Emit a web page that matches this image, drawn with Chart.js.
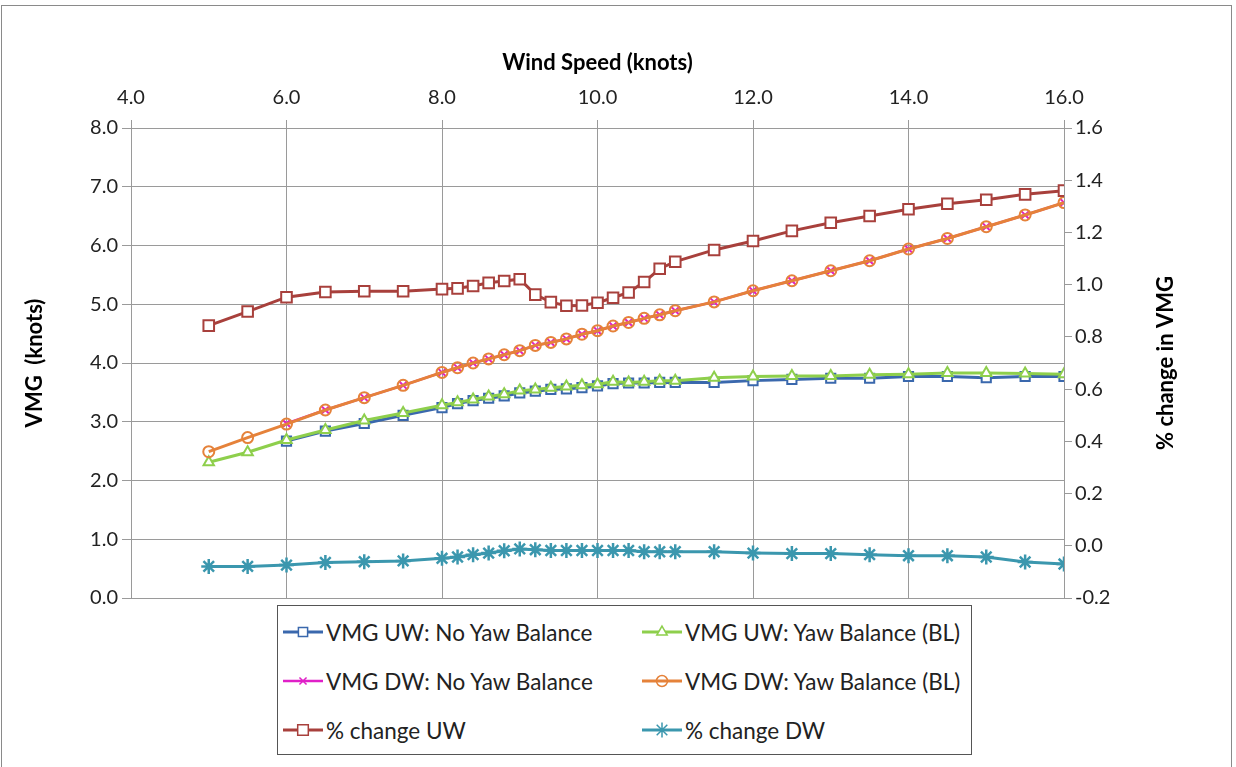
<!DOCTYPE html>
<html>
<head>
<meta charset="utf-8">
<script src="https://cdn.jsdelivr.net/npm/chart.js@4/dist/chart.umd.min.js"></script>
<style>
    body { margin: 0; background: #fff; font-family: Lato, sans-serif; }
    #wrap { position: relative; width: 1236px; height: 767px; overflow: hidden; }
    #frame { position: absolute; left: 1px; top: 5px; width: 1229px; height: 800px; border: 1.5px solid #8a8a8a; pointer-events: none; }
    #legend { position: absolute; left: 277px; top: 605px; width: 693px; height: 148px; border: 1.5px solid #555; background: #fff; }
    .item { position: absolute; display: flex; align-items: center; font-size: 22.5px; color: #222; white-space: nowrap; }
    .item canvas { margin-right: 3px; }
</style>
</head>
<body>
<div id="wrap">
    <canvas id="vmgChart"></canvas>
    <div id="frame"></div>
    <div id="legend"></div>
</div>
<script>
// Wind speed (knots) for every data point
const windSpeed = [5, 5.5, 6, 6.5, 7, 7.5, 8, 8.2, 8.4, 8.6, 8.8, 9, 9.2, 9.4, 9.6, 9.8, 10,
    10.2, 10.4, 10.6, 10.8, 11, 11.5, 12, 12.5, 13, 13.5, 14, 14.5, 15, 15.5, 16];

// VMG (knots), left axis
const vmgUwNoYaw = [null, null, 2.67, 2.84, 2.97, 3.11, 3.24, 3.31, 3.36, 3.40, 3.44, 3.49, 3.52, 3.55, 3.56, 3.58, 3.61,
    3.65, 3.66, 3.66, 3.67, 3.67, 3.67, 3.70, 3.72, 3.74, 3.74, 3.77, 3.77, 3.75, 3.77, 3.77];
const vmgUwYaw = [2.31, 2.48, 2.69, 2.86, 3.02, 3.15, 3.28, 3.33, 3.38, 3.43, 3.47, 3.53, 3.55, 3.58, 3.60, 3.62, 3.64,
    3.68, 3.67, 3.68, 3.70, 3.70, 3.75, 3.77, 3.78, 3.78, 3.80, 3.81, 3.83, 3.83, 3.82, 3.81];
const vmgDwNoYaw = [null, null, 2.97, 3.20, 3.41, 3.62, 3.84, 3.92, 4.00, 4.07, 4.14, 4.21, 4.30, 4.35, 4.41, 4.49, 4.55,
    4.63, 4.69, 4.76, 4.82, 4.89, 5.04, 5.23, 5.40, 5.57, 5.74, 5.94, 6.12, 6.32, 6.52, 6.73];
const vmgDwYaw = [2.49, 2.73, 2.96, 3.20, 3.41, 3.62, 3.84, 3.92, 4.00, 4.07, 4.14, 4.21, 4.30, 4.35, 4.41, 4.49, 4.55,
    4.63, 4.69, 4.76, 4.82, 4.89, 5.04, 5.23, 5.40, 5.57, 5.74, 5.94, 6.12, 6.32, 6.52, 6.73];

// % change in VMG, right axis
const pctChangeUw = [0.843, 0.897, 0.952, 0.972, 0.975, 0.975, 0.983, 0.986, 0.995, 1.007, 1.014, 1.021, 0.962, 0.933, 0.919, 0.920, 0.931,
    0.950, 0.970, 1.010, 1.061, 1.088, 1.133, 1.167, 1.206, 1.237, 1.263, 1.289, 1.310, 1.325, 1.346, 1.360];
const pctChangeDw = [-0.079, -0.079, -0.074, -0.064, -0.061, -0.058, -0.048, -0.043, -0.034, -0.028, -0.019, -0.012, -0.015, -0.018, -0.018, -0.018, -0.018,
    -0.018, -0.018, -0.023, -0.023, -0.023, -0.023, -0.028, -0.030, -0.030, -0.034, -0.038, -0.038, -0.043, -0.062, -0.070];

const seriesNames = ['VMG UW: No Yaw Balance', 'VMG UW: Yaw Balance (BL)', 'VMG DW: No Yaw Balance',
    'VMG DW: Yaw Balance (BL)', '% change UW', '% change DW'];

function toPoints(values) {
    return windSpeed.map((x, i) => ({ x: x, y: values[i] }));
}

const axisFont = { family: 'Lato', size: 20 };
const titleFont = { family: 'Lato', size: 22, weight: 'bold' };
const gridColor = '#9a9a9a';

const datasets = [
    {
        label: seriesNames[0], data: toPoints(vmgUwNoYaw), yAxisID: 'y',
        borderColor: '#3a68ad', pointBorderColor: '#3a68ad', pointBackgroundColor: '#fff',
        pointStyle: 'rect', pointRadius: 6.5, borderWidth: 3, pointBorderWidth: 2, order: 5
    },
    {
        label: seriesNames[1], data: toPoints(vmgUwYaw), yAxisID: 'y',
        borderColor: '#8ecf4c', pointBorderColor: '#8ecf4c', pointBackgroundColor: '#fff',
        pointStyle: 'triangle', pointRadius: 6, borderWidth: 3, pointBorderWidth: 2, order: 4
    },
    {
        label: seriesNames[2], data: toPoints(vmgDwNoYaw), yAxisID: 'y',
        borderColor: '#e020c8', pointBorderColor: '#e020c8', pointBackgroundColor: '#fff',
        pointStyle: 'crossRot', pointRadius: 5, borderWidth: 2.5, pointBorderWidth: 2, order: 6
    },
    {
        label: seriesNames[3], data: toPoints(vmgDwYaw), yAxisID: 'y',
        borderColor: '#e5823a', pointBorderColor: '#e5823a', pointBackgroundColor: 'rgba(0,0,0,0)',
        pointStyle: 'circle', pointRadius: 5.5, borderWidth: 3, pointBorderWidth: 2, order: 3
    },
    {
        label: seriesNames[4], data: toPoints(pctChangeUw), yAxisID: 'y2',
        borderColor: '#a8403c', pointBorderColor: '#a8403c', pointBackgroundColor: '#fff',
        pointStyle: 'rect', pointRadius: 7.5, borderWidth: 3, pointBorderWidth: 2, order: 2
    },
    {
        label: seriesNames[5], data: toPoints(pctChangeDw), yAxisID: 'y2',
        borderColor: '#3b97ae', pointBorderColor: '#3b97ae', pointBackgroundColor: '#fff',
        pointStyle: 'star', pointRadius: 7.5, borderWidth: 3, pointBorderWidth: 2.5, order: 1
    }
];

// right axis title reads bottom-to-top like the left one
const rightTitle = {
    id: 'rightTitle',
    afterDraw(chart) {
        const s = chart.scales.y2;
        const ctx = chart.ctx;
        ctx.save();
        ctx.translate(1166, (s.top + s.bottom) / 2);
        ctx.rotate(-Math.PI / 2);
        ctx.font = 'bold 22px Lato';
        ctx.fillStyle = '#000';
        ctx.textAlign = 'center';
        ctx.textBaseline = 'middle';
        ctx.fillText('% change in VMG', 0, 0);
        ctx.restore();
    }
};

const chart = new Chart(document.getElementById('vmgChart'), {
    type: 'line',
    data: { datasets: datasets },
    options: {
        responsive: true,
        maintainAspectRatio: false,
        animation: false,
        layout: { padding: { top: 0, left: 0, right: 0, bottom: 169 } },
        plugins: { legend: { display: false }, tooltip: { enabled: false } },
        scales: {
            x: {
                type: 'linear', position: 'top', min: 4, max: 16,
                afterFit: (scale) => { scale.height = 128; },
                ticks: { stepSize: 2, font: axisFont, color: '#222', padding: 10, maxRotation: 0,
                    callback: (v) => v.toFixed(1) },
                grid: { color: gridColor, tickLength: 8, tickColor: gridColor },
                border: { color: gridColor },
                title: { display: true, text: 'Wind Speed (knots)', font: titleFont, color: '#000',
                    padding: { top: 50, bottom: 0 } }
            },
            y: {
                position: 'left', min: 0, max: 8,
                afterFit: (scale) => { scale.width = 131; },
                ticks: { stepSize: 1, font: axisFont, color: '#222', padding: 4,
                    callback: (v) => v.toFixed(1) },
                grid: { color: gridColor, tickLength: 9, tickColor: gridColor },
                border: { color: gridColor },
                title: { display: true, text: 'VMG  (knots)', font: titleFont, color: '#000',
                    padding: { top: 22, bottom: 0 } }
            },
            y2: {
                position: 'right', min: -0.2, max: 1.6,
                afterFit: (scale) => { scale.width = 172; },
                ticks: { stepSize: 0.2, font: axisFont, color: '#222', padding: 3,
                    callback: (v) => v.toFixed(1) },
                grid: { drawOnChartArea: false, tickLength: 8, color: gridColor, tickColor: gridColor },
                border: { color: gridColor }
            }
        }
    },
    plugins: [rightTitle]
});

// legend box: two columns, three rows
function buildLegend() {
    const legend = document.getElementById('legend');
    const cols = [5, 364];
    const rows = [26, 75, 124];
    datasets.forEach((ds, i) => {
        const item = document.createElement('div');
        item.className = 'item';
        item.style.left = cols[i % 2] + 'px';
        item.style.top = (rows[Math.floor(i / 2)] - 15) + 'px';
        const c = document.createElement('canvas');
        c.width = 40;
        c.height = 30;
        const ctx = c.getContext('2d');
        ctx.strokeStyle = ds.borderColor;
        ctx.lineWidth = ds.borderWidth;
        ctx.beginPath();
        ctx.moveTo(0, 15);
        ctx.lineTo(40, 15);
        ctx.stroke();
        ctx.fillStyle = ds.pointBackgroundColor;
        ctx.lineWidth = 1.5;
        Chart.helpers.drawPoint(ctx, {
            pointStyle: ds.pointStyle, radius: ds.pointRadius, rotation: 0, borderWidth: 1.5
        }, 20, 15);
        const label = document.createElement('span');
        label.textContent = ds.label;
        item.appendChild(c);
        item.appendChild(label);
        legend.appendChild(item);
    });
}
buildLegend();
</script>
</body>
</html>
